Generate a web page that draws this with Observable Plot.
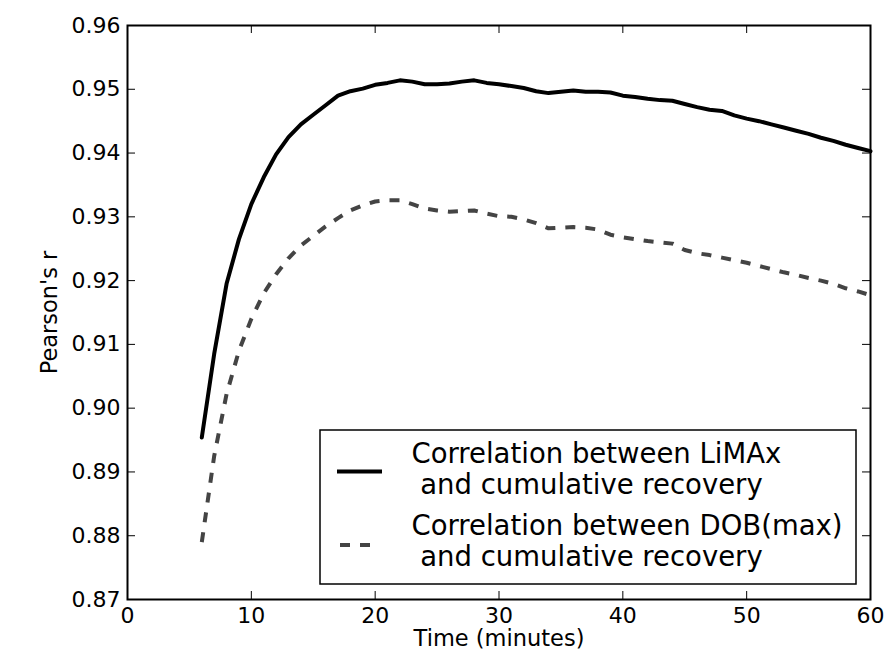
<!DOCTYPE html>
<html>
<head>
<meta charset="utf-8">
<script src="https://cdn.jsdelivr.net/npm/d3@7"></script>
<script src="https://cdn.jsdelivr.net/npm/@observablehq/plot@0.6"></script>
<style>
  html, body { margin: 0; padding: 0; background: #fff; }
  svg { display: block; }
</style>
</head>
<body>
<div id="chart"></div>
<script>
// ---- data ----
const minutes = [6,7,8,9,10,11,12,13,14,15,16,17,18,19,20,21,22,23,24,25,26,27,28,29,30,31,32,33,34,35,36,37,38,39,40,41,42,43,44,45,46,47,48,49,50,51,52,53,54,55,56,57,58,59,60];
const limaxR = [0.8954,0.9085,0.9195,0.9265,0.9320,0.9362,0.9398,0.9425,0.9445,0.9460,0.9475,0.9490,0.9497,0.9501,0.9507,0.9510,0.9514,0.9512,0.9508,0.9508,0.9509,0.9512,0.9514,0.9510,0.9508,0.9505,0.9502,0.9497,0.9494,0.9496,0.9498,0.9496,0.9496,0.9495,0.9490,0.9488,0.9485,0.9483,0.9482,0.9477,0.9472,0.9468,0.9466,0.9459,0.9454,0.9450,0.9445,0.9440,0.9435,0.9430,0.9424,0.9419,0.9413,0.9408,0.9403];
const dobR = [0.8790,0.8925,0.9022,0.9090,0.9140,0.9180,0.9210,0.9235,0.9255,0.9270,0.9285,0.9298,0.9310,0.9318,0.9324,0.9326,0.9326,0.9320,0.9313,0.9310,0.9308,0.9309,0.9310,0.9305,0.9301,0.9300,0.9296,0.9290,0.9282,0.9283,0.9284,0.9283,0.9280,0.9272,0.9268,0.9265,0.9262,0.9260,0.9258,0.9248,0.9243,0.9240,0.9236,0.9232,0.9228,0.9223,0.9218,0.9213,0.9209,0.9204,0.9200,0.9195,0.9188,0.9183,0.9177];
const seriesNames = ["Correlation between LiMAx\n and cumulative recovery", "Correlation between DOB(max)\n and cumulative recovery"];
const xTicks = [0,10,20,30,40,50,60];
const yTicks = [0.87,0.88,0.89,0.90,0.91,0.92,0.93,0.94,0.95,0.96];
const xLabel = "Time (minutes)";
const yLabel = "Pearson's r";

// ---- layout ----
const W = 888, H = 666;
const mL = 127, mR = 18, mT = 25, mB = 67;
const pw = W - mL - mR, ph = H - mT - mB;
const tickLen = 8;
const FONT = "DejaVu Sans";

const limaxData = minutes.map((m, i) => ({m, r: limaxR[i]}));
const dobData = minutes.map((m, i) => ({m, r: dobR[i]}));

const chart = Plot.plot({
  width: W, height: H,
  marginLeft: mL, marginRight: mR, marginTop: mT, marginBottom: mB,
  style: {fontFamily: FONT, fontSize: "22px", color: "#000", background: "#fff"},
  x: {domain: [0, 60]},
  y: {domain: [0.87, 0.96]},
  marks: [
    Plot.line(dobData, {x: "m", y: "r", stroke: "#444444", strokeWidth: 4, strokeDasharray: "10,10", strokeLinecap: "butt"}),
    Plot.line(limaxData, {x: "m", y: "r", stroke: "#000", strokeWidth: 4}),
    // inward ticks on all four sides
    Plot.tickY(yTicks, {y: d => d, insetRight: pw - tickLen, stroke: "#000", strokeWidth: 1}),
    Plot.tickY(yTicks, {y: d => d, insetLeft: pw - tickLen, stroke: "#000", strokeWidth: 1}),
    Plot.tickX(xTicks, {x: d => d, insetTop: ph - tickLen, stroke: "#000", strokeWidth: 1}),
    Plot.tickX(xTicks, {x: d => d, insetBottom: ph - tickLen, stroke: "#000", strokeWidth: 1}),
    Plot.axisY({ticks: yTicks, tickFormat: d3.format(".2f"), tickSize: 0, tickPadding: 7, label: null, fontSize: 22}),
    Plot.axisX({ticks: xTicks, tickFormat: d3.format("d"), tickSize: 0, tickPadding: 8, label: null, fontSize: 22}),
    Plot.frame({stroke: "#000", strokeWidth: 2}),
    Plot.text([xLabel], {text: d => d, frameAnchor: "bottom", textAnchor: "middle", dy: 46, fontSize: 22.5, fill: "#000"}),
    Plot.text([yLabel], {text: d => d, frameAnchor: "left", textAnchor: "middle", dx: -78, rotate: -90, fontSize: 22.5, fill: "#000"})
  ]
});

document.getElementById("chart").appendChild(chart);

// ---- legend (drawn inside the plot's SVG) ----
const svg = d3.select(chart);
const lg = svg.append("g").attr("font-family", FONT).attr("font-size", 27.5).attr("text-anchor", "start");
const bx = 320, by = 430, bw = 536, bh = 154;
lg.append("rect").attr("x", bx).attr("y", by).attr("width", bw).attr("height", bh)
  .attr("fill", "#fff").attr("stroke", "#000").attr("stroke-width", 1.5);
const entries = [
  {y: 471.5, stroke: "#000", dash: null, x1: 337, x2: 382, lines: seriesNames[0].split("\n"), base: 463},
  {y: 545, stroke: "#444444", dash: "10,10", x1: 340, x2: 370, lines: seriesNames[1].split("\n"), base: 535}
];
for (const e of entries) {
  const ln = lg.append("line").attr("x1", e.x1).attr("x2", e.x2).attr("y1", e.y).attr("y2", e.y)
    .attr("stroke", e.stroke).attr("stroke-width", 4);
  if (e.dash) ln.attr("stroke-dasharray", e.dash);
  e.lines.forEach((t, i) => {
    lg.append("text").attr("x", 411.5).attr("y", e.base + i * 31)
      .attr("text-anchor", "start")
      .style("white-space", "pre").attr("fill", "#000").text(t);
  });
}
</script>
</body>
</html>
